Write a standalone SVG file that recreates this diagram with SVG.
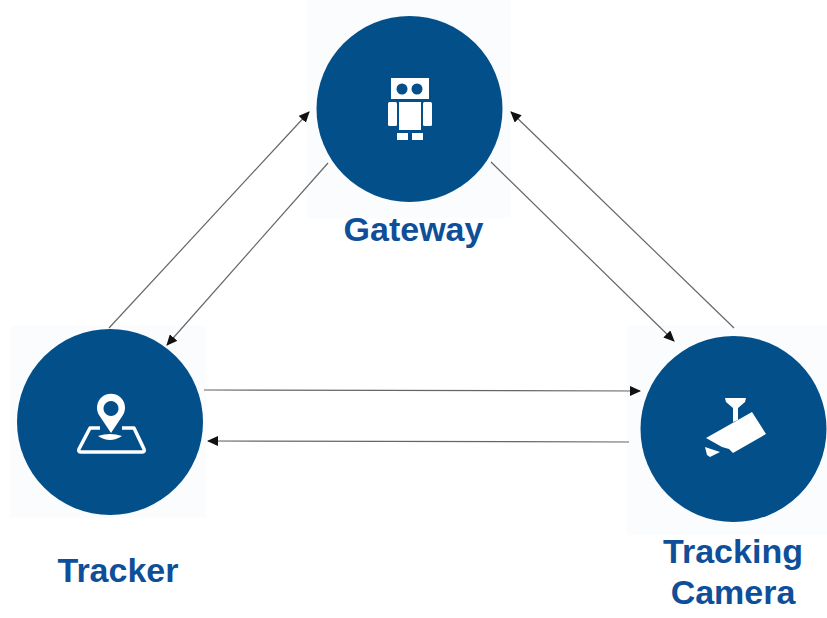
<svg xmlns="http://www.w3.org/2000/svg" width="827" height="618" viewBox="0 0 827 618">
<style>
.bg{fill:#fafcfe}
.disc{fill:#034f8a}
.ic{fill:#fff}
.ico{fill:none;stroke:#fff;stroke-width:3.500;stroke-linejoin:round}
.lb{font-family:"Liberation Sans",Arial,sans-serif;font-weight:700;font-size:34px;fill:#0f4f9a;text-anchor:middle}
.c{stroke:#666;stroke-width:1.200;fill:none;marker-end:url(#a)}
</style>
<defs>
<marker id="a" markerUnits="userSpaceOnUse" markerWidth="12" markerHeight="10" refX="10" refY="5" orient="auto">
<path d="M0 0L11 5L0 10Z" fill="#111"/>
</marker>
</defs>
<rect width="827" height="618" fill="#fff"/>
<g id="gateway">
<rect class="bg" x="307" y="0" width="204" height="218"/>
<circle class="disc" cx="409.500" cy="109" r="93"/>
<rect class="ic" x="391" y="78" width="38" height="21"/>
<circle class="disc" cx="402" cy="89" r="5.500"/>
<circle class="disc" cx="417" cy="89" r="5.500"/>
<rect class="ic" x="388" y="102" width="9" height="24" rx="1.500"/>
<rect class="ic" x="399" y="102" width="22" height="28"/>
<rect class="ic" x="423" y="102" width="9" height="24" rx="1.500"/>
<rect class="ic" x="397" y="133" width="11" height="7"/>
<rect class="ic" x="412" y="133" width="11" height="7"/>
<text class="lb" x="413.500" y="241">Gateway</text>
</g>
<g id="tracker">
<rect class="bg" x="10" y="326" width="196" height="192"/>
<circle class="disc" cx="110" cy="422" r="93"/>
<path class="ico" d="M100 428L90 428L79 449Q78 452 81 452L142 452Q145 452 144 449L134 428L122 428"/>
<path class="ic" d="M98 436Q110 432 122 436Q110 444 98 436Z"/>
<path class="ic" fill-rule="evenodd" d="M111 433L99 415A14 14 0 1 1 123 415ZM111 401A7.500 7.500 0 1 0 111.010 401Z"/>
<text class="lb" x="118" y="582">Tracker</text>
</g>
<g id="tracking-camera">
<rect class="bg" x="627" y="326" width="200" height="209"/>
<circle class="disc" cx="733.500" cy="429" r="93"/>
<path class="ic" d="M725 398L746 398L745 402L738 408L738 420L733 422L733 408L726 402Z"/>
<path class="ic" d="M706 438L752 412L766 434L733 453L729 449L722 447Z"/>
<path class="ic" d="M705 447L720 452L710 457L707 455Z"/>
<text class="lb" x="733" y="563">Tracking</text>
<text class="lb" x="733" y="604">Camera</text>
</g>
<g id="connectors">
<line class="c" x1="109" y1="328" x2="309" y2="112"/>
<line class="c" x1="328" y1="163" x2="167" y2="345"/>
<line class="c" x1="491" y1="162" x2="674" y2="341"/>
<line class="c" x1="734" y1="328" x2="511" y2="112"/>
<line class="c" x1="204" y1="390" x2="640" y2="391"/>
<line class="c" x1="629" y1="442" x2="208" y2="441"/>
</g>
</svg>
